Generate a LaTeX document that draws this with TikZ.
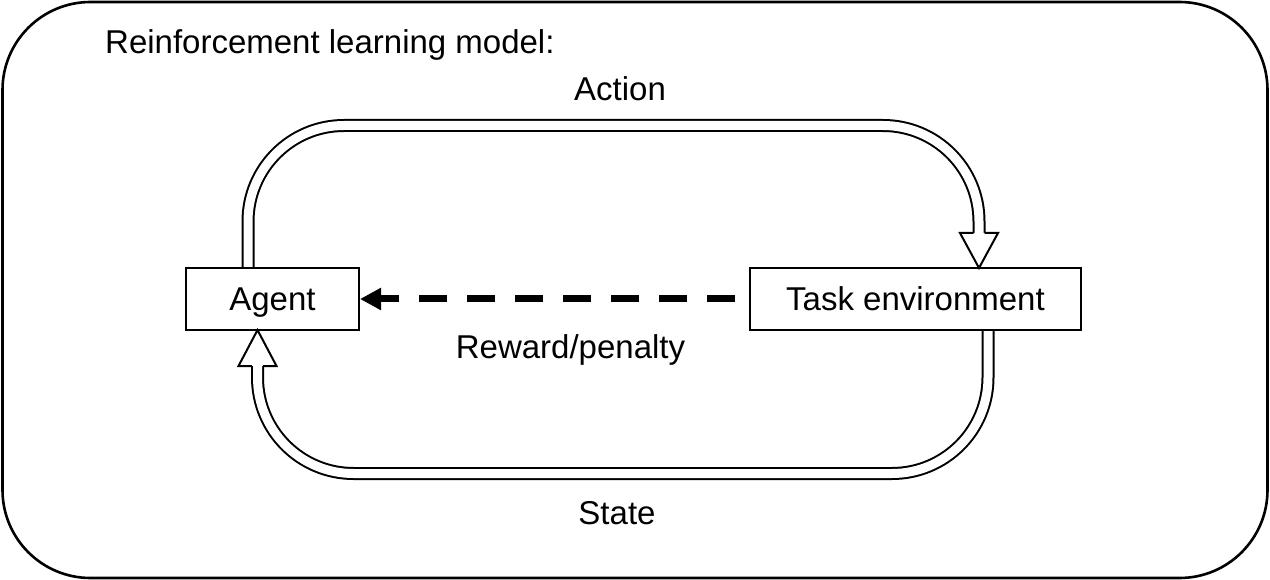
\documentclass[tikz,border=0pt]{standalone}
\usepackage{fontspec}
\setmainfont{Liberation Sans}
\usetikzlibrary{arrows.meta,calc}
\begin{document}
\begin{tikzpicture}[x=1pt,y=-1pt,
  every node/.style={font=\fontsize{33}{40}\selectfont, inner sep=0pt},
  box/.style={draw, line width=2pt, minimum width=#1, minimum height=62pt, text height=23pt, text depth=0pt},
  lbl/.style={anchor=base},
  dbl/.style={draw, line width=2pt, double=white, double distance=9pt, rounded corners=96pt},
  headfill/.style={fill=white},
  headline/.style={draw, line width=2pt, line join=miter},
  dashedarrow/.style={line width=7pt, dash pattern=on 28pt off 20pt, -{Triangle[length=21pt,width=21pt]}}
]
\useasboundingbox (0,0) rectangle (1270,580);
% outer frame
\draw[line width=2.6pt, rounded corners=88pt] (2.5,2) rectangle (1267.5,578);
\node[lbl, anchor=base west] (title) at (105,54) {Reinforcement learning model:};

% boxes
\node[box=173pt] (agent) at (272.5,299) {Agent};
\node[box=331pt] (task) at (915.5,299) {Task environment};

% Action loop
\coordinate (a0) at (agent.north -| 248,0);
\coordinate (a1) at (248,125.5);
\coordinate (a2) at (979,125.5);
\coordinate (a3) at (979,233);
\coordinate (at) at ([yshift=-1pt]task.north -| 979,0);
\draw[dbl] (a0) -- (a1) -- (a2) -- (a3);
\fill[headfill] (960,233) -- (at) -- (998,233) -- cycle;
\draw[headline] (973.5,233) -- (960,233) -- (at) -- (998,233) -- (984.5,233);
\node[lbl] (action) at (620,101) {Action};

% State loop
\coordinate (s0) at (task.south -| 988,0);
\coordinate (s1) at (988,473.5);
\coordinate (s2) at (257.5,473.5);
\coordinate (s3) at (257.5,366);
\coordinate (st) at ([yshift=1pt]agent.south -| 257.5,0);
\draw[dbl] (s0) -- (s1) -- (s2) -- (s3);
\fill[headfill] (238.5,366) -- (st) -- (276.5,366) -- cycle;
\draw[headline] (252,366) -- (238.5,366) -- (st) -- (276.5,366) -- (263,366);
\node[lbl] (state) at (617,524) {State};

% reward/penalty
\coordinate (r0) at ($(task.west)+(-14,0)$);
\draw[dashedarrow] (r0) -- (agent.east);
\node[lbl] (reward) at (570.5,358) {Reward/penalty};
\end{tikzpicture}
\end{document}
